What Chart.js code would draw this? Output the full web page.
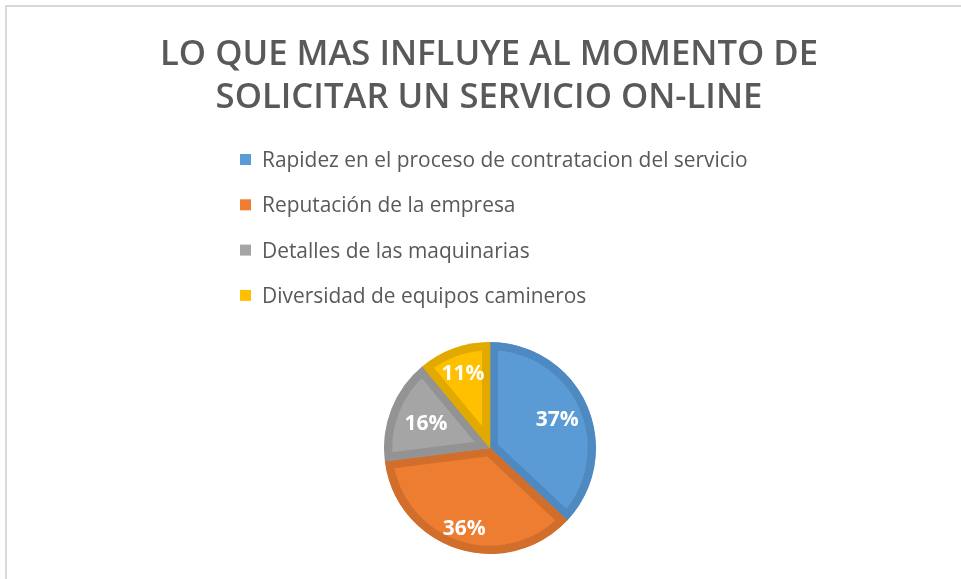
<!DOCTYPE html>
<html>
<head>
<meta charset="utf-8">
<script src="https://cdn.jsdelivr.net/npm/chart.js@4/dist/chart.umd.min.js"></script>
<style>
  html, body { margin: 0; padding: 0; background: #ffffff; }
  #wrap { position: relative; width: 961px; height: 579px; }
</style>
</head>
<body>
<div id="wrap"><canvas id="c" width="961" height="579"></canvas></div>
<script>
// ---- Data ----
const titleLines = ["LO QUE MAS INFLUYE AL MOMENTO DE", "SOLICITAR UN SERVICIO ON-LINE"];
const categories = [
  "Rapidez en el proceso de contratacion del servicio",
  "Reputación de la empresa",
  "Detalles de las maquinarias",
  "Diversidad de equipos camineros"
];
const values = [37, 36, 16, 11];
const fillColors = ["#5B9BD5", "#ED7D31", "#A5A5A5", "#FFC000"];
const edgeColors = ["#4E89C2", "#D26E2B", "#939393", "#E2AA00"];

const TEXT_GRAY = "#595959";
// "best fit" label placement (fraction of radius), per slice
const labelRadiusFactor = [0.69, 0.79, 0.65, 0.75];

function fitFont(ctx, text, weight, family, targetWidth) {
  ctx.font = weight + " 100px " + family;
  const w = ctx.measureText(text).width;
  return 100 * targetWidth / w;
}

const decorPlugin = {
  id: "decor",
  beforeDraw(chart) {
    const ctx = chart.ctx;
    ctx.save();
    ctx.strokeStyle = "#D9D9D9";
    ctx.lineWidth = 2;
    ctx.beginPath();
    ctx.moveTo(6, 579);
    ctx.lineTo(6, 6);
    ctx.lineTo(961, 6);
    ctx.stroke();

    const tFam = "'Open Sans', 'Noto Sans', sans-serif";
    const tSize = fitFont(ctx, titleLines[0], "600", tFam, 658);
    ctx.font = "600 " + tSize.toFixed(2) + "px " + tFam;
    ctx.fillStyle = TEXT_GRAY;
    ctx.textAlign = "center";
    ctx.textBaseline = "alphabetic";
    ctx.fillText(titleLines[0], 489, 65);
    ctx.fillText(titleLines[1], 489, 108);

    const lFam = "'Open Sans', 'Noto Sans', sans-serif";
    const lSize = fitFont(ctx, categories[0], "400", lFam, 486);
    ctx.font = "400 " + lSize.toFixed(2) + "px " + lFam;
    ctx.textAlign = "left";
    ctx.textBaseline = "middle";
    const y0 = 160, dy = 45.3;
    categories.forEach((lab, i) => {
      const y = y0 + i * dy;
      ctx.fillStyle = fillColors[i];
      ctx.fillRect(240, y - 6, 11, 11);
      ctx.fillStyle = TEXT_GRAY;
      ctx.fillText(lab, 262, y + 1);
    });
    ctx.restore();
  },
  afterDatasetsDraw(chart) {
    const ctx = chart.ctx;
    const meta = chart.getDatasetMeta(0);
    const total = values.reduce((a, b) => a + b, 0);
    ctx.save();
    ctx.font = "bold 21px 'Open Sans', 'Noto Sans', sans-serif";
    ctx.fillStyle = "#FFFFFF";
    ctx.textAlign = "center";
    ctx.textBaseline = "middle";
    meta.data.forEach((arc, i) => {
      const p = arc.getProps(["x", "y", "startAngle", "endAngle", "outerRadius"], true);
      const mid = (p.startAngle + p.endAngle) / 2;
      const r = p.outerRadius * labelRadiusFactor[i];
      const x = p.x + Math.cos(mid) * r;
      const y = p.y + Math.sin(mid) * r + 1;
      ctx.fillText(Math.round(values[i] / total * 100) + "%", x, y);
    });
    ctx.restore();
  }
};

new Chart(document.getElementById("c"), {
  type: "pie",
  data: {
    labels: categories,
    datasets: [{
      data: values,
      backgroundColor: fillColors,
      borderColor: edgeColors,
      borderWidth: 8,
      borderAlign: "inner"
    }]
  },
  options: {
    responsive: false,
    animation: false,
    events: [],
    layout: { padding: { top: 342, bottom: 25, left: 19, right: 0 } },
    plugins: {
      legend: { display: false },
      title: { display: false },
      tooltip: { enabled: false }
    }
  },
  plugins: [decorPlugin]
});
</script>
</body>
</html>
